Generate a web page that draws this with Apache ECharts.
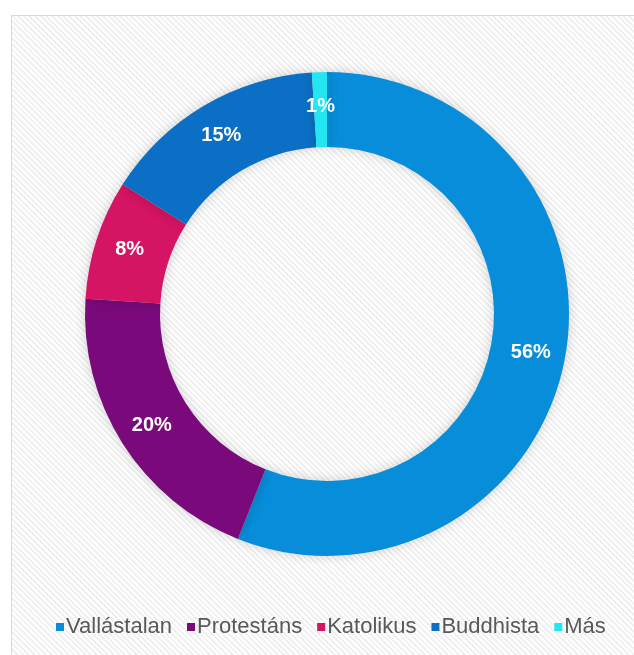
<!DOCTYPE html>
<html>
<head>
<meta charset="utf-8">
<script src="https://cdn.jsdelivr.net/npm/echarts@6/dist/echarts.min.js"></script>
<style>
  html, body { margin: 0; padding: 0; background: #fff; }
  .frame {
    position: absolute; left: 11px; top: 15px; width: 640px; height: 660px;
    border: 1px solid #d9d9d9;
    background: repeating-linear-gradient(45deg, #ffffff 0px, #ffffff 2px, #f0f0f0 2px, #f0f0f0 4px);
  }
  #chart { position: absolute; left: 0; top: 0; width: 634px; height: 655px; }
</style>
</head>
<body>
<div class="frame"></div>
<div id="chart"></div>
<script>
const categories = ['Vallástalan', 'Protestáns', 'Katolikus', 'Buddhista', 'Más']
const shares = [56, 20, 8, 15, 1]
const colors = ['#078DD9', '#7A0A7C', '#D51463', '#0B70C5', '#22E6F2']

const chart = echarts.init(document.getElementById('chart'))

chart.setOption({
  backgroundColor: 'transparent',
  color: colors,
  legend: {
    bottom: 12,
    left: 51,
    itemWidth: 8,
    itemHeight: 8,
    itemGap: 15,
    icon: 'rect',
    textStyle: {
      fontFamily: 'Liberation Sans, Arial, sans-serif',
      fontSize: 22,
      color: '#595959',
      padding: [0, 0, 0, -3]
    },
    data: categories
  },
  series: [
    {
      type: 'pie',
      center: [327, 314],
      radius: [167, 242],
      startAngle: 90,
      clockwise: true,
      avoidLabelOverlap: false,
      itemStyle: {
        shadowBlur: 12,
        shadowColor: 'rgba(0, 0, 0, 0.18)'
      },
      label: {
        show: true,
        position: 'inside',
        formatter: '{c}%',
        color: '#fff',
        fontFamily: 'Liberation Sans, Arial, sans-serif',
        fontWeight: 'bold',
        fontSize: 20
      },
      labelLine: { show: false },
      data: categories.map((name, i) => ({ name: name, value: shares[i] }))
    }
  ]
})
</script>
</body>
</html>
